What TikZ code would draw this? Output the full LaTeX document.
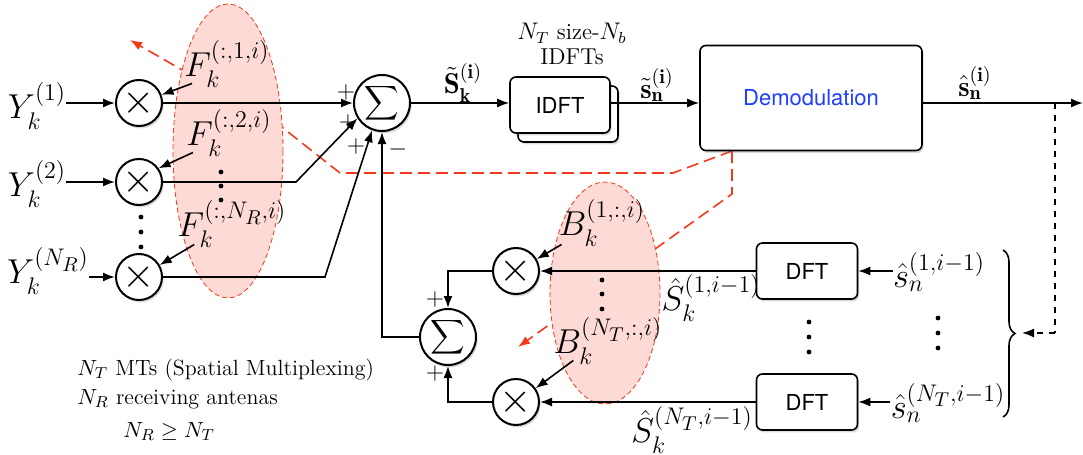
\documentclass[tikz,border=0pt]{standalone}
\usepackage{amsmath}
\usepackage{amssymb}
\usepackage{fontspec}
\newfontfamily\helv{TeX Gyre Heros}
\usepackage{tikz}
\usetikzlibrary{arrows.meta, positioning, calc, decorations.pathreplacing, shadows}
\definecolor{cred}{HTML}{F5391C}
\definecolor{cpink}{HTML}{FDDAD5}
\definecolor{cblue}{HTML}{1F3FFF}

\begin{document}
\begin{tikzpicture}[x=0.5pt, y=-0.5pt,
  shade/.style={drop shadow={opacity=0.3, shadow xshift=0.8pt, shadow yshift=-1.2pt}},
  mult/.style={circle, draw, line width=1pt, fill=white, minimum size=23pt, inner sep=0pt, font=\huge, shade},
  summer/.style={mult, minimum size=28pt, font=\large},
  block/.style={draw, line width=0.8pt, rounded corners=3pt, fill=white, inner sep=0pt, font=\helv\fontsize{11}{13}\selectfont, shade},
  lbl/.style={inner sep=0pt, font=\LARGE},
  blbl/.style={inner sep=0pt, font=\Large},
  txt/.style={inner sep=0pt, font=\fontsize{11}{13}\selectfont},
  plus/.style={inner sep=0pt, font=\large},
  arr/.style={thick, -{Latex[length=6pt, width=4.5pt]}},
  redarr/.style={cred, thick, dash pattern=on 6pt off 3pt, -{Latex[length=6pt, width=4.5pt]}},
  blob/.style={fill=cpink, draw=cred, thin, dash pattern=on 2.5pt off 1.5pt}]
  \useasboundingbox (0,0) rectangle (1083,455);

  % red feedback hints (behind the coefficient sets)
  \coordinate (dtap) at (732,151);
  \draw[redarr] (dtap) -- (673,173) -- (340,173) -- (283,128) -- (130,40);
  \draw[redarr] (dtap) -- (732,194) -- (518,347);
  \filldraw[blob] (228,151) ellipse [x radius=55, y radius=147];
  \filldraw[blob] (605,293) ellipse [x radius=55, y radius=111];

  % inputs and multipliers
  \node[lbl] (y1) at (37,106) {$Y_k^{(1)}$};
  \node[lbl] (y2) at (37,184) {$Y_k^{(2)}$};
  \node[lbl] (y3) at (48,271) {$Y_k^{(N_R)}$};
  \node[mult] (m1) at (139,103) {$\times$};
  \node[mult] (m2) at (139,182) {$\times$};
  \node[mult] (m3) at (139,277) {$\times$};
  \foreach \y in {217,232,247}
    \fill (141,\y) circle (1.2pt);

  % weights
  \node[lbl] (f1) at (227,64) {$F_k^{(:,1,i)}$};
  \node[lbl] (f2) at (229,133) {$F_k^{(:,2,i)}$};
  \node[lbl] (f3) at (232,224) {$F_k^{(:,N_R,i)}$};
  \foreach \y in {172,186,200}
    \fill (221,\y) circle (1.2pt);

  % sums
  \node[summer] (sum) at (382,103) {$\displaystyle\sum$};
  \node[summer] (sumb) at (448,337) {$\displaystyle\sum$};
  \node[plus] (p1) at (346,92) {$+$};
  \node[plus] (p2) at (348,122) {$+$};
  \node[plus] (p3) at (356,146) {$+$};
  \node[plus] (p4) at (398,149) {$-$};
  \node[plus] (p5) at (435,299) {$+$};
  \node[plus] (p6) at (435,373) {$+$};

  % IDFT and demodulation
  \node[block, minimum width=50pt, minimum height=28pt] (idftb) at (568,114) {};
  \node[block, minimum width=50pt, minimum height=28pt] (idft) at (560,105) {IDFT};
  \node[align=center, inner sep=0pt, font=\fontsize{11.5}{12.5}\selectfont] (idftlbl) at (572,44) {$N_T$ size-$N_b$\\IDFTs};
  \node[block, minimum width=111pt, minimum height=52.5pt, text=cblue] (demod) at (811,98) {Demodulation};
  \node[blbl] (stk) at (463,83) {$\tilde{\mathbf{S}}_{\mathbf{k}}^{(\mathbf{i})}$};
  \node[blbl] (stn) at (657,85) {$\tilde{\mathbf{s}}_{\mathbf{n}}^{(\mathbf{i})}$};
  \node[blbl] (shn) at (975,83) {$\hat{\mathbf{s}}_{\mathbf{n}}^{(\mathbf{i})}$};

  % lower branch
  \node[mult] (mb1) at (516,271) {$\times$};
  \node[mult] (mb2) at (516,402) {$\times$};
  \node[lbl] (b1) at (602,223) {$B_k^{(1,:,i)}$};
  \node[lbl] (b2) at (608,341) {$B_k^{(N_T,:,i)}$};
  \foreach \y in {280,294,309}
    \fill (602,\y) circle (1.2pt);
  \node[block, minimum width=50.5pt, minimum height=28pt] (dft1) at (807,271) {DFT};
  \node[block, minimum width=50.5pt, minimum height=28pt] (dft2) at (807,402) {DFT};
  \node[lbl] (sh1) at (711,298) {$\hat S_k^{(1,i-1)}$};
  \node[lbl] (sh2) at (692,430) {$\hat S_k^{(N_T,i-1)}$};
  \node[lbl] (sn1) at (939,272) {$\hat s_n^{(1,i-1)}$};
  \node[lbl] (sn2) at (948,403) {$\hat s_n^{(N_T,i-1)}$};
  \foreach \y in {322,337,352}
    \fill (809,\y) circle (1.2pt);
  \foreach \y in {318,333,348}
    \fill (938,\y) circle (1.2pt);

  % notes
  \node[txt, anchor=base west] (mts) at (77,375) {$N_T$ MTs (Spatial Multiplexing)};
  \node[txt, anchor=base west] (nrx) at (77,404) {$N_R$ receiving antenas};
  \node[txt, anchor=base west] (nge) at (123,437) {$N_R \geq N_T$};

  % connections
  \coordinate (c2) at (296,182);
  \coordinate (c3) at (325,277);
  \coordinate (out) at (1083,103);
  \coordinate (tap) at (1055,103);
  \coordinate (bend) at (1055,333);
  \coordinate (brtip) at (1022,333);
  \draw[arr] (y1.east |- m1) -- (m1);
  \draw[arr] (y2.east |- m2) -- (m2);
  \draw[arr] (y3.east |- m3) -- (m3);
  \draw[arr] ($(f1.south west)+(8,-4)$) -- (m1.20);
  \draw[arr] ($(f2.south west)+(7,-4)$) -- (m2.35);
  \draw[arr] ($(f3.south west)+(17,-3)$) -- (m3.30);
  \draw[arr] (m1) -- (sum);
  \draw[arr] (m2) -- (c2) -- (sum.212);
  \draw[arr] (m3) -- (c3) -- (sum.250);
  \draw[arr] (sumb) -| (sum);
  \draw[arr] (sum) -- (sum -| idft.west);
  \draw[arr] (sum -| idft.east) -- (sum -| demod.west);
  \draw[arr] (sum -| demod.east) -- (out);
  \draw[thick, dashed] (tap) -- (bend);
  \draw[thick, dashed, -{Latex[length=6pt, width=4.5pt]}] (bend) -- (brtip);
  \draw[thick, decorate, decoration={brace, amplitude=6pt}] (1003,250) -- (1003,417);
  \draw[arr] (sn1.west |- dft1) -- (dft1);
  \draw[arr] (sn2.west |- dft2) -- (dft2);
  \draw[arr] (dft1) -- (mb1);
  \draw[arr] (dft2) -- (mb2);
  \draw[arr] ($(b1.south west)+(3,-2)$) -- (mb1.30);
  \draw[arr] ($(b2.south west)+(20,-4)$) -- (mb2.35);
  \draw[arr] (mb1) -| (sumb);
  \draw[arr] (mb2) -| (sumb);
\end{tikzpicture}
\end{document}
